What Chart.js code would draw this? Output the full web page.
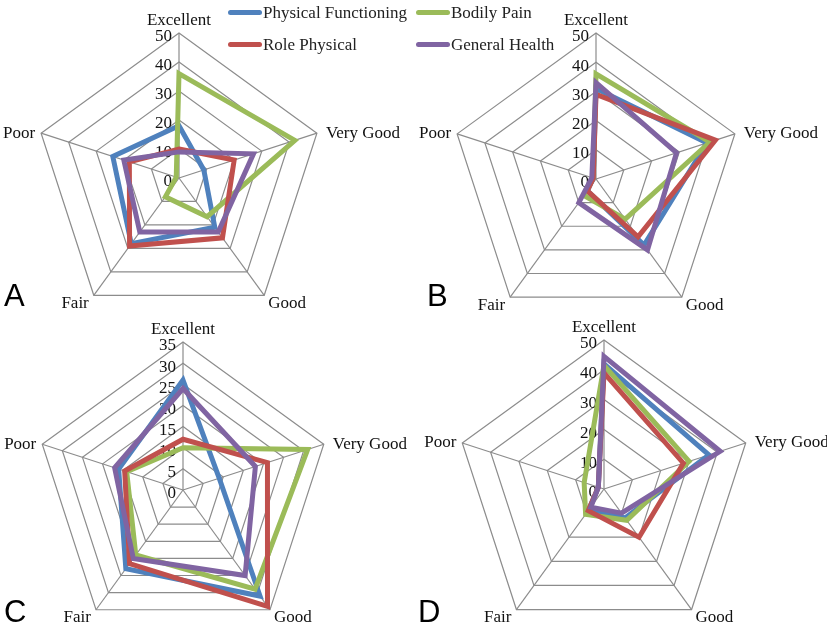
<!DOCTYPE html>
<html>
<head>
<meta charset="utf-8">
<script src="https://cdn.jsdelivr.net/npm/chart.js@4/dist/chart.umd.min.js"></script>
<style>
  body { margin: 0; background: #fff; width: 827px; height: 631px; position: relative; overflow: hidden; font-family: "Liberation Serif", serif; }
  canvas { position: absolute; }
  .panel { position: absolute; font-family: "Liberation Sans", Arial, sans-serif; font-size: 31px; color: #000; }
  .leg { position: absolute; font-size: 17px; color: #222; white-space: nowrap; }
  .leg span { display: inline-block; width: 34px; height: 5px; border-radius: 3px; vertical-align: middle; margin-right: 1px; position: relative; top: -2px; }
</style>
</head>
<body>
<canvas id="chartA"></canvas>
<canvas id="chartB"></canvas>
<canvas id="chartC"></canvas>
<canvas id="chartD"></canvas>

<div class="panel" style="left:4px; top:278px">A</div>
<div class="panel" style="left:427px; top:278px">B</div>
<div class="panel" style="left:4px; top:594px">C</div>
<div class="panel" style="left:418px; top:594px">D</div>

<div class="leg" style="left:228px; top:3px"><span style="background:#4F81BD"></span>Physical Functioning</div>
<div class="leg" style="left:228px; top:35px"><span style="background:#C0504D"></span>Role Physical</div>
<div class="leg" style="left:416px; top:3px"><span style="background:#9BBB59"></span>Bodily Pain</div>
<div class="leg" style="left:416px; top:35px"><span style="background:#8064A2"></span>General Health</div>

<script>
// categorias y series (porcentaje de respuestas)
const categories = ['Excellent', 'Very Good', 'Good', 'Fair', 'Poor'];
const seriesNames = ['Physical Functioning', 'Bodily Pain', 'Role Physical', 'General Health'];
const seriesColors = ['#4F81BD', '#9BBB59', '#C0504D', '#8064A2'];

// A
const physicalA = [18, 9, 21, 28, 24];
const painA = [36, 42, 16.5, 8, 1];
const roleA = [10, 20, 25.5, 29, 18];
const generalA = [9, 27, 23, 23, 20];
// B
const physicalB = [31, 40, 28, 5, 1];
const painB = [36, 41, 17, 7, 1];
const roleB = [29, 43, 24.5, 5, 1];
const generalB = [33, 29, 30, 10, 1.5];
// C
const physicalC = [26, 9, 31, 23, 16];
const painC = [10, 31, 29, 19, 14];
const roleC = [12, 21, 34, 21.5, 14.5];
const generalC = [24, 18, 25, 20, 17];
// D
const physicalD = [42, 37, 12, 9, 2];
const painD = [41.5, 30, 13, 10.5, 7];
const roleD = [39, 28, 20, 9, 2];
const generalD = [44.5, 41, 10, 7.5, 2];

const ticksAB = [0, 10, 20, 30, 40, 50];
const ticksC = [0, 5, 10, 15, 20, 25, 30, 35];

const gridColor = '#8c8c8c';
const PAD = 95;

// etiquetas del eje a la izquierda del eje vertical
const sideTicks = {
  id: 'sideTicks',
  beforeDatasetsDraw(chart) {
    const s = chart.scales.r;
    const ctx = chart.ctx;
    ctx.save();
    ctx.font = '17px "Liberation Serif", serif';
    ctx.fillStyle = '#111';
    ctx.textAlign = 'right';
    ctx.textBaseline = 'middle';
    s.ticks.forEach(t => {
      const y = s.yCenter - s.getDistanceFromCenterForValue(t.value);
      ctx.fillText(t.label, s.xCenter - 7, y + 4);
    });
    ctx.restore();
  }
};

// etiquetas de categoria colocadas junto a cada vertice, como en Excel
const cornerLabels = {
  id: 'cornerLabels',
  afterDraw(chart) {
    const s = chart.scales.r;
    const ctx = chart.ctx;
    const place = [
      { dx: 0, dy: -8, align: 'center', base: 'alphabetic' },
      { dx: 9, dy: 0, align: 'left', base: 'middle' },
      { dx: 4, dy: 8, align: 'left', base: 'middle' },
      { dx: -5, dy: 8, align: 'right', base: 'middle' },
      { dx: -6, dy: 0, align: 'right', base: 'middle' }
    ];
    ctx.save();
    ctx.font = '17px "Liberation Serif", serif';
    ctx.fillStyle = '#111';
    chart.data.labels.forEach((lab, i) => {
      const p = s.getPointPosition(i, s.drawingArea);
      const o = place[i];
      ctx.textAlign = o.align;
      ctx.textBaseline = o.base;
      ctx.fillText(lab, p.x + o.dx, p.y + o.dy);
    });
    ctx.restore();
  }
};

function makeRadar(id, values, tickValues, cx, cy, r) {
  const el = document.getElementById(id);
  const size = 2 * (r + PAD);
  el.width = size;
  el.height = size;
  el.style.left = (cx - r - PAD) + 'px';
  el.style.top = (cy - r - PAD) + 'px';
  new Chart(el.getContext('2d'), {
    type: 'radar',
    data: {
      labels: categories,
      datasets: values.map((v, i) => ({
        label: seriesNames[i],
        data: v,
        borderColor: seriesColors[i],
        borderWidth: 5,
        fill: false,
        pointRadius: 0,
        tension: 0,
        order: 3 - i
      }))
    },
    options: {
      responsive: false,
      animation: false,
      layout: { padding: PAD },
      plugins: { legend: { display: false }, tooltip: { enabled: false } },
      scales: {
        r: {
          min: tickValues[0],
          max: tickValues[tickValues.length - 1],
          afterBuildTicks: axis => { axis.ticks = tickValues.map(v => ({ value: v })); },
          ticks: { display: false },
          grid: { color: gridColor, lineWidth: 1.2 },
          angleLines: { color: gridColor, lineWidth: 1.2 },
          pointLabels: { display: false }
        }
      }
    },
    plugins: [sideTicks, cornerLabels]
  });
}

makeRadar('chartA', [physicalA, painA, roleA, generalA], ticksAB, 179, 178, 145);
makeRadar('chartB', [physicalB, painB, roleB, generalB], ticksAB, 596, 179, 146);
makeRadar('chartC', [physicalC, painC, roleC, generalC], ticksC, 183, 490, 148);
makeRadar('chartD', [physicalD, painD, roleD, generalD], ticksAB, 604, 489, 149);
</script>
</body>
</html>
